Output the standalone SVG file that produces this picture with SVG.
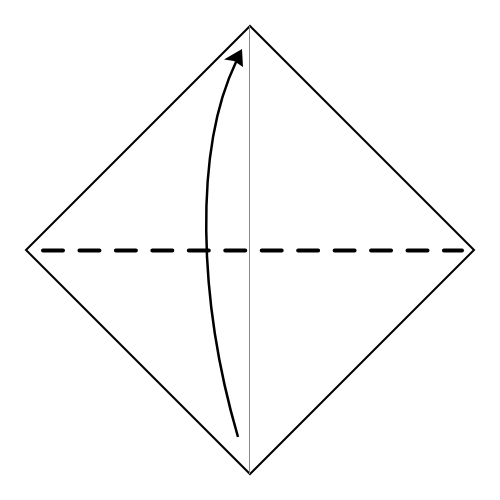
<svg xmlns="http://www.w3.org/2000/svg" width="500" height="500" viewBox="0 0 500 500">
<style>
.edge{fill:none;stroke:#000;stroke-width:2;stroke-linejoin:miter}
.crease{stroke:#888;stroke-width:1}
.valley{stroke:#000;stroke-width:4;stroke-linecap:round;stroke-dasharray:20 16.45}
.arrow{fill:none;stroke:#000;stroke-width:2.5}
</style>
<rect width="500" height="500" fill="#fff"/>
<g id="paper">
<polygon class="edge" points="250,26 474,250 250,474 26,250"/>
</g>
<g id="connectors">
<line class="crease" x1="249.5" y1="26" x2="249.5" y2="474"/>
<line class="valley" x1="43" y1="250.5" x2="462" y2="250.5"/>
<path class="arrow" d="M238,437 C198,300 194,150 236,62"/>
<polygon points="242,49 224,59.5 234,61 243,67" fill="#000"/>
</g>
</svg>
